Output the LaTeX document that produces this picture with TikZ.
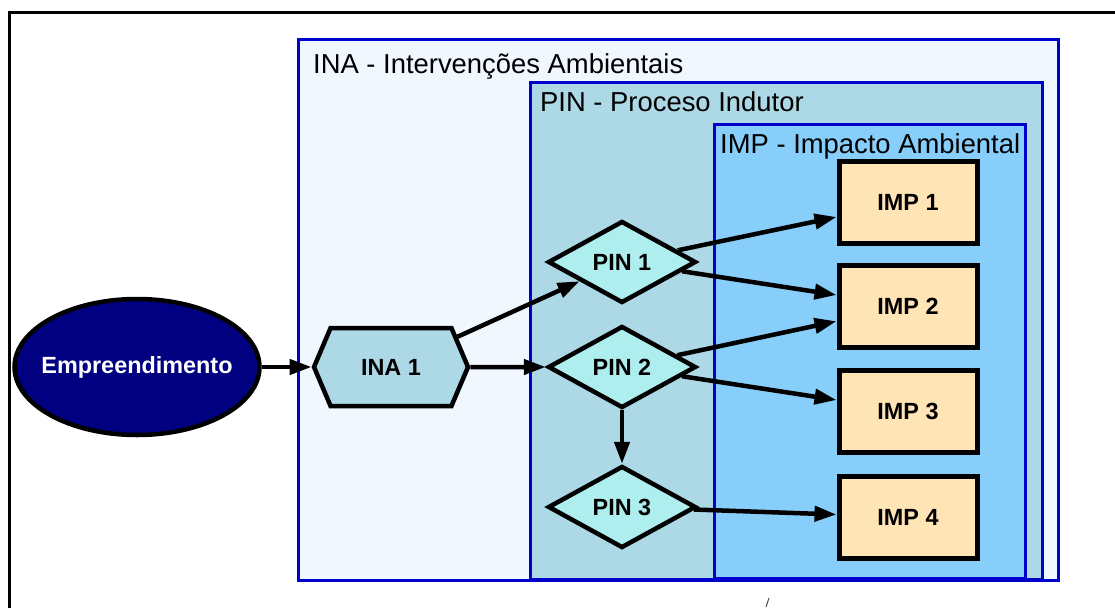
\documentclass[tikz,border=0pt]{standalone}
\usepackage{fontspec}
\setmainfont{Liberation Sans}
\usetikzlibrary{shapes.geometric,shapes.symbols,arrows.meta}
\definecolor{inafill}{HTML}{F0F7FF}
\definecolor{pinfill}{HTML}{ADD8E6}
\definecolor{impfill}{HTML}{87CEFA}
\definecolor{boxblue}{HTML}{0000CC}
\definecolor{empfill}{HTML}{000080}
\definecolor{diafill}{HTML}{AFEEEE}
\definecolor{impbox}{HTML}{FFE4B5}
\tikzset{
  container/.style={draw=boxblue, line width=3pt},
  ctitle/.style={anchor=base west, inner sep=0pt, font=\fontsize{27.4}{32}\selectfont},
  lbl/.style={font=\fontsize{23.4}{28}\selectfont\bfseries},
  empnode/.style={ellipse, draw=black, line width=4.5pt, fill=empfill, text=white,
    minimum width=245pt, minimum height=136pt, inner xsep=-12pt, inner ysep=0pt, lbl},
  inanode/.style={signal, signal to=west and east, signal pointer angle=134,
    draw=black, line width=4.5pt, fill=pinfill, minimum width=154pt,
    minimum height=78pt, inner sep=0pt, lbl},
  pinnode/.style={diamond, draw=black, line width=4.5pt, fill=diafill,
    minimum width=148pt, minimum height=82pt, inner sep=0pt, lbl},
  impnode/.style={rectangle, draw=black, line width=5pt, fill=impbox,
    minimum width=138pt, minimum height=82pt, inner sep=0pt, lbl},
  conn/.style={draw=black, line width=4.5pt, -{Triangle[length=22pt,width=15pt]}}
}
\begin{document}
\begin{tikzpicture}[x=1pt,y=-1pt]
\useasboundingbox (0,0) rectangle (1115,608);
% outer frame
\draw[line width=3pt] (9,608) -- (9,12) -- (1115,12);
% containers
\draw[container, fill=inafill] (298,39) rectangle (1058,580);
\draw[container, fill=pinfill] (530,82) rectangle (1042,579);
\draw[container, fill=impfill] (714,124) rectangle (1025,578);
\node[ctitle] (tina) at (313,73) {INA - Intervenções Ambientais};
\node[ctitle] (tpin) at (540,111) {PIN - Proceso Indutor};
\node[ctitle] (timp) at (720,153) {IMP - Impacto Ambiental};
% nodes
\node[empnode] (emp) at (137,367) {Empreendimento};
\node[inanode] (ina1) at (391,367) {INA 1};
\node[pinnode] (pin1) at (622,262) {PIN 1};
\node[pinnode] (pin2) at (622,367) {PIN 2};
\node[pinnode] (pin3) at (622,507) {PIN 3};
\node[impnode] (imp1) at (908,202) {IMP 1};
\node[impnode] (imp2) at (908,306) {IMP 2};
\node[impnode] (imp3) at (908,411) {IMP 3};
\node[impnode] (imp4) at (908,517) {IMP 4};
% connectors
\draw[conn] (emp) -- (ina1);
\draw[conn] (ina1) -- (pin1);
\draw[conn] (ina1) -- (pin2);
\draw[conn] (pin1) -- (imp1);
\draw[conn] (pin1) -- (imp2);
\draw[conn] (pin2) -- (imp2);
\draw[conn] (pin2) -- (imp3);
\draw[conn] (pin2) -- (pin3);
\draw[conn] (pin3) -- (imp4);
% small mark
\draw[line width=1pt, black!70] (766,607) -- (769,598);
\end{tikzpicture}
\end{document}
